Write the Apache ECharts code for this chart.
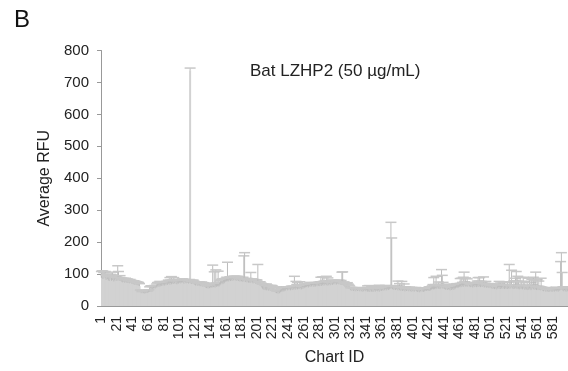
<!DOCTYPE html>
<html>
<head>
<meta charset="utf-8">
<script src="https://cdn.jsdelivr.net/npm/echarts@6/dist/echarts.min.js"></script>
<style>
  html, body { margin: 0; padding: 0; background: #fff; }
  #chart { width: 568px; height: 371px; }
</style>
</head>
<body>
<div id="chart"></div>
<script>
// chart IDs 1..600
var chartIds = [];
for (var n = 1; n <= 600; n++) chartIds.push(String(n));

// average RFU per chart ID, 20 per row
var meanRfu = [
  88, 92, 85, 90, 94, 86, 82, 89, 84, 80, 78, 83, 86, 79, 81, 84, 77, 80, 83, 79,
  82, 80, 84, 79, 81, 78, 76, 74, 75, 77, 73, 76, 74, 72, 75, 73, 71, 74, 72, 70,
  70, 68, 72, 66, 69, 67, 65, 68, 64, 62, 44, 42, 40, 43, 41, 39, 42, 40, 43, 41,
  42, 44, 52, 55, 54, 57, 53, 56, 58, 55, 57, 60, 63, 66, 64, 67, 65, 63, 66, 64,
  66, 64, 67, 65, 68, 66, 69, 70, 67, 71, 68, 72, 70, 69, 71, 73, 70, 68, 72, 70,
  72, 74, 71, 73, 75, 72, 70, 74, 73, 71, 74, 72, 70, 73, 738, 71, 69, 72, 70, 68,
  66, 64, 67, 65, 63, 66, 64, 62, 65, 63, 61, 64, 62, 60, 58, 56, 57, 55, 58, 56,
  58, 60, 57, 62, 59, 61, 58, 63, 60, 62, 64, 61, 66, 68, 72, 74, 71, 75, 73, 76,
  76, 78, 80, 77, 79, 81, 78, 80, 82, 79, 81, 83, 80, 82, 79, 81, 78, 80, 77, 79,
  78, 76, 79, 77, 80, 75, 77, 74, 76, 73, 75, 72, 74, 76, 73, 71, 74, 72, 70, 73,
  70, 68, 66, 67, 65, 62, 58, 54, 52, 50, 53, 51, 49, 52, 50, 48, 51, 49, 47, 50,
  48, 46, 47, 44, 42, 40, 41, 39, 42, 40, 43, 46, 48, 50, 49, 51, 48, 50, 52, 49,
  51, 50, 52, 49, 53, 51, 50, 52, 54, 51, 53, 55, 52, 54, 56, 53, 55, 52, 54, 56,
  55, 57, 58, 60, 59, 61, 58, 62, 60, 63, 61, 64, 62, 60, 63, 61, 64, 62, 65, 63,
  62, 64, 66, 63, 65, 67, 64, 66, 68, 65, 67, 64, 66, 68, 65, 67, 69, 66, 68, 70,
  68, 70, 67, 69, 71, 68, 70, 67, 69, 66, 68, 65, 63, 61, 60, 58, 62, 59, 57, 55,
  50, 48, 51, 49, 47, 50, 48, 46, 49, 47, 50, 48, 46, 49, 47, 45, 48, 46, 49, 47,
  46, 48, 45, 47, 44, 46, 48, 45, 47, 44, 46, 48, 45, 47, 49, 46, 48, 45, 47, 49,
  47, 49, 51, 48, 50, 52, 49, 51, 53, 50, 52, 54, 55, 56, 53, 51, 54, 52, 50, 53,
  51, 49, 52, 50, 48, 51, 49, 47, 50, 48, 46, 49, 47, 50, 48, 46, 49, 47, 45, 48,
  46, 48, 45, 47, 49, 46, 44, 47, 45, 43, 46, 48, 45, 47, 44, 46, 48, 50, 47, 49,
  48, 50, 47, 49, 51, 53, 55, 52, 54, 56, 53, 55, 57, 54, 56, 53, 55, 58, 56, 54,
  55, 53, 51, 54, 52, 50, 53, 51, 49, 52, 50, 53, 51, 54, 52, 55, 57, 59, 56, 58,
  60, 62, 59, 61, 63, 60, 62, 64, 61, 63, 60, 62, 64, 61, 59, 62, 60, 58, 61, 59,
  60, 62, 59, 61, 63, 60, 62, 59, 61, 63, 60, 62, 58, 61, 59, 57, 60, 58, 56, 59,
  58, 56, 54, 57, 55, 53, 56, 54, 52, 55, 57, 54, 56, 53, 55, 57, 54, 56, 53, 55,
  54, 56, 53, 55, 57, 54, 56, 58, 55, 53, 56, 54, 57, 55, 53, 56, 54, 52, 55, 53,
  54, 52, 55, 53, 51, 54, 52, 50, 53, 51, 54, 52, 50, 53, 55, 52, 54, 51, 53, 50,
  52, 50, 53, 51, 49, 52, 50, 48, 46, 49, 47, 45, 48, 46, 44, 47, 45, 48, 46, 44,
  46, 48, 45, 47, 49, 46, 48, 45, 47, 49, 52, 55, 50, 48, 46, 49, 47, 45, 48, 46
];

// error (plus side) per chart ID, same order
var sdRfu = [
  20, 18, 24, 15, 12, 22, 14, 10, 16, 12, 15, 11, 13, 18, 25, 12, 14, 10, 9, 12,
  12, 46, 24, 10, 14, 9, 11, 10, 12, 8, 9, 11, 10, 12, 9, 8, 10, 9, 7, 10,
  8, 9, 7, 10, 8, 9, 8, 7, 9, 8, 6, 7, 5, 6, 7, 8, 6, 7, 5, 6,
  6, 7, 8, 7, 9, 6, 8, 7, 6, 8, 7, 9, 10, 8, 9, 10, 8, 11, 9, 10,
  9, 10, 8, 11, 9, 10, 12, 9, 22, 10, 24, 9, 11, 20, 8, 10, 9, 12, 10, 9,
  10, 9, 11, 8, 10, 9, 12, 10, 9, 11, 8, 10, 9, 10, 7, 10, 9, 8, 11, 10,
  10, 12, 9, 11, 10, 8, 11, 10, 9, 12, 10, 9, 8, 10, 9, 8, 10, 9, 8, 7,
  9, 12, 9, 66, 10, 46, 8, 50, 11, 9, 45, 10, 9, 12, 10, 11, 9, 10, 12, 10,
  10, 12, 57, 11, 9, 10, 12, 9, 10, 11, 12, 10, 9, 11, 10, 12, 10, 9, 11, 10,
  10, 9, 11, 80, 87, 10, 9, 11, 10, 12, 9, 10, 31, 9, 10, 11, 9, 10, 12, 9,
  11, 62, 10, 9, 11, 10, 12, 14, 16, 18, 12, 15, 20, 14, 13, 16, 12, 15, 17, 14,
  14, 12, 10, 9, 8, 7, 8, 9, 7, 8, 9, 10, 8, 9, 11, 8, 10, 9, 8, 10,
  9, 10, 8, 11, 9, 10, 12, 9, 39, 10, 24, 12, 22, 10, 11, 23, 9, 10, 11, 9,
  10, 9, 11, 8, 10, 9, 12, 10, 9, 11, 10, 8, 9, 11, 10, 12, 9, 10, 8, 11,
  10, 12, 24, 11, 26, 10, 27, 12, 11, 28, 9, 24, 10, 9, 11, 10, 12, 9, 10, 11,
  9, 8, 10, 11, 9, 12, 10, 9, 11, 40, 39, 10, 12, 11, 10, 13, 11, 10, 9, 8,
  8, 9, 7, 8, 10, 7, 9, 8, 7, 9, 8, 7, 9, 8, 10, 8, 7, 9, 8, 7,
  9, 8, 18, 10, 20, 9, 8, 17, 10, 19, 8, 9, 18, 10, 9, 16, 9, 20, 8, 10,
  10, 9, 11, 8, 10, 12, 9, 11, 10, 12, 9, 10, 207, 157, 10, 12, 9, 11, 10, 9,
  12, 29, 10, 20, 11, 9, 28, 12, 10, 21, 9, 11, 10, 8, 9, 11, 10, 8, 9, 10,
  9, 8, 10, 7, 9, 8, 10, 9, 8, 10, 9, 8, 7, 9, 10, 8, 9, 7, 10, 8,
  9, 10, 8, 11, 9, 10, 12, 37, 10, 11, 40, 9, 10, 21, 12, 10, 11, 56, 40, 20,
  12, 14, 10, 13, 15, 11, 14, 12, 10, 15, 12, 13, 11, 14, 12, 10, 12, 11, 13, 10,
  10, 24, 12, 26, 11, 30, 44, 12, 27, 10, 25, 11, 9, 12, 10, 11, 9, 12, 10, 11,
  11, 10, 12, 17, 26, 18, 27, 12, 16, 11, 10, 29, 12, 10, 18, 11, 9, 12, 10, 11,
  11, 10, 12, 9, 13, 10, 12, 11, 10, 9, 12, 23, 10, 22, 12, 11, 21, 10, 23, 12,
  12, 10, 22, 11, 73, 12, 20, 54, 11, 10, 23, 12, 30, 53, 25, 37, 22, 11, 34, 12,
  23, 12, 35, 11, 26, 10, 12, 24, 11, 10, 33, 12, 24, 30, 12, 38, 27, 11, 53, 10,
  30, 12, 25, 10, 11, 35, 9, 8, 10, 7, 9, 8, 10, 7, 9, 8, 10, 7, 9, 8,
  8, 7, 9, 8, 10, 9, 8, 10, 9, 8, 87, 112, 55, 12, 9, 10, 11, 13, 9, 10
];

var yTicks = [0, 100, 200, 300, 400, 500, 600, 700, 800];

// plus-only error bars: from the bar top to mean + error
var errData = meanRfu.map(function (m, i) {
  return [i, m, m + sdRfu[i]];
});

var myChart = echarts.init(document.getElementById('chart'));
var font = 'Liberation Sans, Arial, sans-serif';

var option = {
  animation: false,
  backgroundColor: '#fff',
  textStyle: { fontFamily: font },
  title: {
    text: 'Bat LZHP2 (50 µg/mL)',
    left: 245,
    top: 58,
    textStyle: { fontSize: 17, fontWeight: 'normal', color: '#222', fontFamily: font }
  },
  graphic: [{
    type: 'text',
    left: 14,
    top: 8,
    style: { text: 'B', fontSize: 24, fill: '#111', fontFamily: font }
  }],
  grid: { left: 101, right: 0, top: 50.5, bottom: 64.5 },
  xAxis: {
    type: 'category',
    data: chartIds,
    name: 'Chart ID',
    nameLocation: 'middle',
    nameGap: 44,
    nameTextStyle: { fontSize: 16, color: '#222', fontFamily: font },
    axisLine: { lineStyle: { color: '#999' } },
    axisTick: { interval: 0, length: 5, lineStyle: { color: '#a0a0a0' } },
    axisLabel: {
      interval: 19,
      rotate: 90,
      margin: 10,
      fontSize: 14,
      color: '#222',
      fontFamily: font
    }
  },
  yAxis: {
    type: 'value',
    min: yTicks[0],
    max: yTicks[yTicks.length - 1],
    interval: 100,
    name: 'Average RFU',
    nameLocation: 'middle',
    nameGap: 48,
    nameTextStyle: { fontSize: 16, color: '#222', fontFamily: font },
    axisLine: { show: true, lineStyle: { color: '#999' } },
    axisTick: { show: true, length: 4, lineStyle: { color: '#999' } },
    splitLine: { show: false },
    axisLabel: { margin: 12, fontSize: 15, color: '#222', fontFamily: font }
  },
  series: [
    {
      type: 'bar',
      data: meanRfu,
      barWidth: 2,
      itemStyle: { color: '#d2d2d2' },
      z: 2
    },
    {
      type: 'custom',
      data: errData,
      z: 3,
      renderItem: function (params, api) {
        var x = api.value(0);
        var lo = api.coord([x, api.value(1)]);
        var hi = api.coord([x, api.value(2)]);
        var half = 5.5;
        return {
          type: 'group',
          children: [
            { type: 'line', shape: { x1: hi[0], y1: hi[1], x2: lo[0], y2: lo[1] }, style: { stroke: '#bcbcbc', lineWidth: 1 } },
            { type: 'line', shape: { x1: hi[0] - half, y1: hi[1], x2: hi[0] + half, y2: hi[1] }, style: { stroke: '#c8c8c8', lineWidth: 1.5 } }
          ]
        };
      }
    }
  ]
};

myChart.setOption(option);
window.addEventListener('resize', function () { myChart.resize(); });
</script>
</body>
</html>
